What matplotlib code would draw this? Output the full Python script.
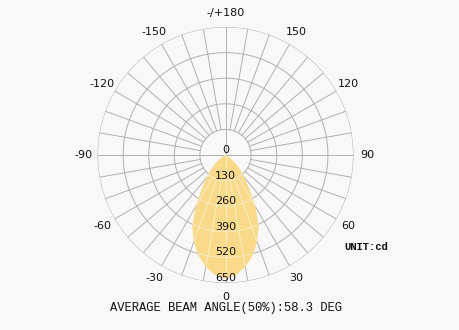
import numpy as np
import matplotlib
matplotlib.use("Agg")
import matplotlib.pyplot as plt

# luminous intensity (cd), symmetric about 0 deg
angles = [0, 5, 10, 15, 20, 25, 30, 35, 40, 45, 50, 55, 60, 65, 70, 75, 80, 90]
intensity = [628, 612, 577, 530, 470, 398, 305, 212, 150, 105, 68, 38, 19, 8, 3, 1, 0, 0]

ring_values = [130, 260, 390, 520, 650]
ring_labels = ["0", "130", "260", "390", "520", "650"]
angle_ticks = [0, 30, 60, 90, 120, 150, 180, -150, -120, -90, -60, -30]
angle_labels = ["0", "30", "60", "90", "120", "150", "-/+180",
                "-150", "-120", "-90", "-60", "-30"]
beam_text = "AVERAGE BEAM ANGLE(50%):58.3 DEG"
unit_text = "UNIT:cd"

bg = "#f8f8f8"
grid_col = "#b0b0b0"
fill_col = "#f8da8a"
txt_col = "#111111"

fig = plt.figure(figsize=(4.6, 3.3), dpi=100, facecolor=bg)
ax = fig.add_axes([0.212, 0.1424, 0.5565, 0.7758], projection="polar")
ax.set_facecolor(bg)
ax.set_theta_zero_location("S")
ax.set_theta_direction(1)
ax.set_ylim(0, 650)
ax.grid(False)
ax.set_xticks([])
ax.set_yticks([])
ax.spines["polar"].set_visible(False)

rmax = ring_values[-1]
full = np.linspace(0, 2 * np.pi, 361)


def draw_grid(color, lw, clip=None):
    lines = []
    for r in ring_values:
        lines += ax.plot(full, np.full_like(full, r), color=color, lw=lw, zorder=3)
    for a in range(0, 360, 10):
        t = np.deg2rad(a)
        r0 = 0 if a % 90 == 0 else ring_values[0]
        lines += ax.plot([t, t], [r0, rmax], color=color, lw=lw, zorder=3)
    if clip is not None:
        for ln in lines:
            ln.set_clip_path(clip)
            ln.set_zorder(5)


draw_grid(grid_col, 0.7)

# beam outline (mirror right half to the left)
ang = np.array(angles, dtype=float)
val = np.array(intensity, dtype=float)
theta = np.deg2rad(np.concatenate([-ang[::-1], ang[1:]]))
rad = np.concatenate([val[::-1], val[1:]])
patch = ax.fill(theta, rad, color=fill_col, lw=0, zorder=4)[0]
draw_grid((1, 1, 1, 0.45), 0.7, clip=patch)

# radial labels along 0 deg
for r, lab in zip([0] + ring_values, ring_labels):
    ax.text(0, r, lab, ha="center", va="bottom", fontsize=8,
            family="DejaVu Sans", color=txt_col, zorder=6)

for a, lab in zip(angle_ticks, angle_labels):
    ax.text(np.deg2rad(a), 722, lab, ha="center", va="center", fontsize=8,
            family="DejaVu Sans", color=txt_col, clip_on=False)

fig.text(226 / 460, 1 - 308 / 330, beam_text, ha="center", va="center",
         fontsize=8.7, family="Liberation Mono", color=txt_col)
fig.text(344 / 460, 1 - 247 / 330, unit_text, ha="left", va="center",
         fontsize=7.6, family="Liberation Mono", weight="bold", color=txt_col)

fig.savefig("out.png", dpi=100, facecolor=bg)
